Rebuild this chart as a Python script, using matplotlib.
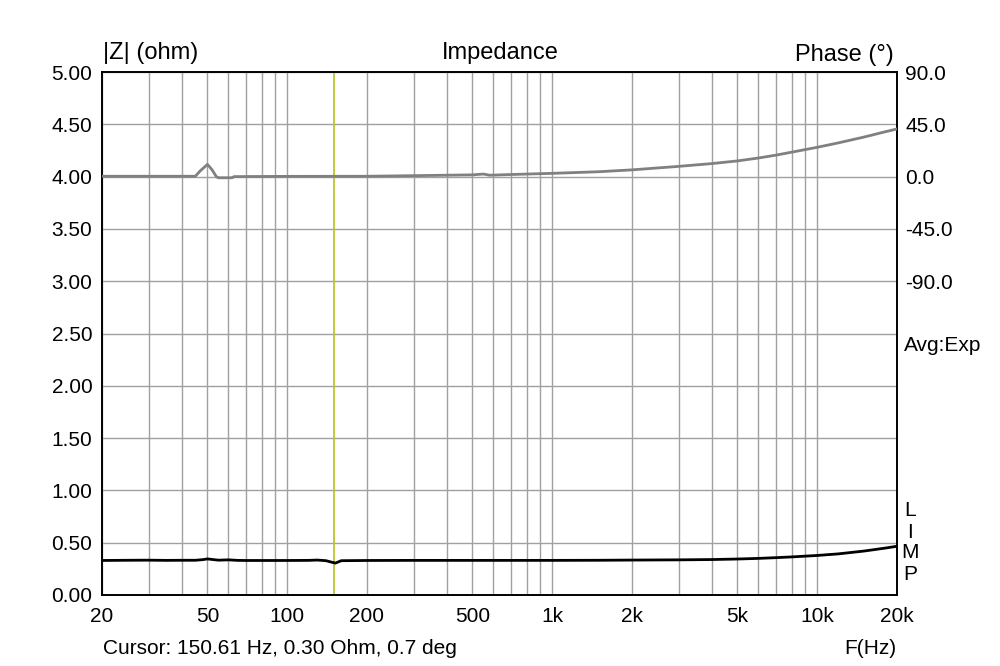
import matplotlib
matplotlib.use("Agg")
import matplotlib.pyplot as plt
from matplotlib.ticker import FixedLocator, FixedFormatter, NullLocator

plt.rcParams['font.family'] = ['Liberation Sans', 'DejaVu Sans']
FS = 15
FS_TOP = 17

# impedance magnitude (ohm)
z_freq = [20, 25, 30, 35, 40, 45, 48, 50, 52, 55, 60, 65, 70, 80, 100, 120, 130,
          140, 148, 152, 160, 200, 300, 500, 700, 1000, 1500, 2000, 3000, 4000,
          5000, 6000, 7000, 8000, 10000, 12000, 15000, 18000, 20000]
z_ohm = [0.330, 0.332, 0.333, 0.331, 0.332, 0.332, 0.338, 0.345, 0.340, 0.333,
         0.336, 0.331, 0.330, 0.330, 0.330, 0.331, 0.334, 0.328, 0.312, 0.305,
         0.328, 0.330, 0.331, 0.331, 0.331, 0.331, 0.332, 0.334, 0.336, 0.339,
         0.344, 0.350, 0.357, 0.364, 0.378, 0.393, 0.420, 0.448, 0.466]

# phase (deg)
ph_freq = [20, 30, 40, 45, 47, 50, 52, 54, 55, 62, 63, 100, 200, 300, 500, 550,
           580, 700, 1000, 1500, 2000, 3000, 4000, 5000, 6000, 7000, 8000,
           10000, 12000, 15000, 18000, 20000]
ph_deg = [0.3, 0.3, 0.3, 0.3, 5.0, 10.5, 6.0, 0.0, -1.0, -1.0, 0.0, 0.2, 0.3,
          0.8, 1.5, 2.2, 1.2, 1.8, 2.8, 4.2, 5.8, 8.8, 11.2, 13.5, 16.0, 18.5,
          21.0, 25.2, 29.0, 34.0, 38.5, 41.0]

cursor_hz = 150.61

x_ticks = [20, 50, 100, 200, 500, 1000, 2000, 5000, 10000, 20000]
x_labels = ['20', '50', '100', '200', '500', '1k', '2k', '5k', '10k', '20k']
x_grid = [20, 30, 40, 50, 60, 70, 80, 90, 100, 200, 300, 400, 500, 600, 700,
          800, 900, 1000, 2000, 3000, 4000, 5000, 6000, 7000, 8000, 9000,
          10000, 20000]
z_ticks = [0.0, 0.5, 1.0, 1.5, 2.0, 2.5, 3.0, 3.5, 4.0, 4.5, 5.0]
ph_ticks = [90, 45, 0, -45, -90]

fig = plt.figure(figsize=(10, 6.66), dpi=100)
ax = fig.add_axes([0.102, 1 - 595 / 666, 0.795, 523 / 666])
ax.set_xscale('log')
ax.set_xlim(20, 20000)
ax.set_ylim(0, 5)

for f in x_grid:
    ax.axvline(f, color='#a0a0a0', lw=1, zorder=1)
for v in z_ticks:
    ax.axhline(v, color='#a0a0a0', lw=1, zorder=1)

ax.xaxis.set_major_locator(FixedLocator(x_ticks))
ax.xaxis.set_major_formatter(FixedFormatter(x_labels))
ax.xaxis.set_minor_locator(NullLocator())
ax.set_yticks(z_ticks)
ax.set_yticklabels(['%.2f' % v for v in z_ticks])
ax.tick_params(axis='both', length=0, labelsize=FS)
ax.tick_params(axis='x', pad=9)
ax.tick_params(axis='y', pad=7)

ax.axvline(cursor_hz, color='#b4c41c', lw=1.2, zorder=2)
ax.plot(z_freq, z_ohm, color='black', lw=2, zorder=4)

ax2 = ax.twinx()
ax2.set_ylim(-360, 90)
ax2.set_yticks(ph_ticks)
ax2.set_yticklabels(['%.1f' % v for v in ph_ticks])
ax2.tick_params(axis='y', length=0, labelsize=FS, pad=6)
ax2.plot(ph_freq, ph_deg, color='#808080', lw=2, zorder=3)

for a in (ax, ax2):
    for s in a.spines.values():
        s.set_color('black')
        s.set_linewidth(1.2)

fig.text(0.103, 1 - 53 / 666, '|Z| (ohm)', fontsize=FS_TOP, ha='left', va='center')
fig.text(0.500, 1 - 53 / 666, 'Impedance', fontsize=FS_TOP, ha='center', va='center')
fig.text(0.894, 1 - 55 / 666, 'Phase (°)', fontsize=FS_TOP, ha='right', va='center')
fig.text(0.904, 1 - 346 / 666, 'Avg:Exp', fontsize=FS, ha='left', va='center')
for lab, yy in zip('LIMP', [510, 532, 553, 575]):
    fig.text(0.910, 1 - yy / 666, lab, fontsize=FS, ha='center', va='center')
fig.text(0.103, 1 - 648 / 666, 'Cursor: 150.61 Hz, 0.30 Ohm, 0.7 deg',
         fontsize=FS, ha='left', va='center')
fig.text(0.896, 1 - 648 / 666, 'F(Hz)', fontsize=FS, ha='right', va='center')

fig.savefig('out.png', dpi=100)
